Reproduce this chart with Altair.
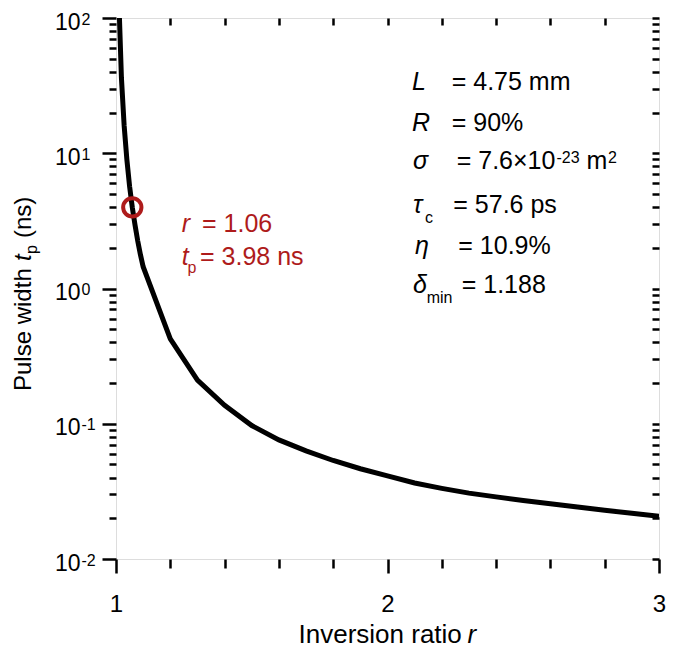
import altair as alt
import pandas as pd

# ---- data ----
r_vals = [1.01, 1.02, 1.03, 1.04, 1.05, 1.06, 1.07, 1.08, 1.09, 1.10,
          1.2, 1.3, 1.4, 1.5, 1.6, 1.7, 1.8, 1.9, 2.0,
          2.1, 2.2, 2.3, 2.4, 2.5, 2.6, 2.7, 2.8, 2.9, 3.0]
tp_vals = [145, 36, 16, 9.0, 5.7, 3.98, 2.95, 2.25, 1.78, 1.45,
           0.424, 0.210, 0.137, 0.097, 0.076, 0.063, 0.0535, 0.0465, 0.0412,
           0.0365, 0.0333, 0.0307, 0.0288, 0.0271, 0.0256, 0.0242, 0.0229, 0.0218, 0.0207]

mark_r = [1.06]
mark_tp = [3.98]

x_major = [1, 2, 3]
x_minor = [1.2, 1.4, 1.6, 1.8, 2.2, 2.4, 2.6, 2.8]
y_major = [0.01, 0.1, 1, 10, 100]
y_minor = [0.02, 0.03, 0.04, 0.05, 0.06, 0.07, 0.08, 0.09,
           0.2, 0.3, 0.4, 0.5, 0.6, 0.7, 0.8, 0.9,
           2, 3, 4, 5, 6, 7, 8, 9,
           20, 30, 40, 50, 60, 70, 80, 90]

curve = pd.DataFrame({"r": r_vals, "tp": tp_vals})
marker = pd.DataFrame({"r": mark_r, "tp": mark_tp})
one = pd.DataFrame({"k": [0]})

FONT = "Liberation Sans"
RED = "#AE1B1B"
W, H = 543, 541

xs = alt.Scale(domain=[1, 3], nice=False, zero=False)
ys = alt.Scale(type="log", domain=[0.01, 100], nice=False)

common = dict(domain=False, grid=False, title=None, tickColor="black",
              tickWidth=2.5, tickCount=200)

ax_x_major = alt.Axis(values=x_major, orient="bottom", tickSize=14,
                      labelExpr="'' + datum.value",
                      labelFont=FONT, labelFontSize=24, labelColor="black",
                      labelPadding=38, labelBaseline="alphabetic", labelFlush=False,
                      labelOverlap=False, **common)
ax_x_minor = alt.Axis(values=x_minor, orient="bottom", tickSize=9, labels=False, **common)
ax_x_top = alt.Axis(values=x_minor + [2], orient="bottom", offset=-H, tickSize=7,
                    labels=False, **common)

ax_y_major = alt.Axis(values=y_major, orient="left", tickSize=14, labelExpr="'10'",
                      labelFont=FONT, labelFontSize=23, labelColor="black",
                      labelPadding=22, labelAlign="right", labelBaseline="alphabetic",
                      labelOffset=11, labelOverlap=False, labelFlush=False, **common)
ax_y_minor = alt.Axis(values=y_minor, orient="left", tickSize=7, labels=False, **common)
ax_y_exp = alt.Axis(values=y_major, orient="left", ticks=False, tickSize=0, tickCount=200,
                    labelExpr="'' + round(log(datum.value) / LN10)",
                    labelFont=FONT, labelFontSize=16, labelColor="black",
                    labelPadding=35, labelAlign="left", labelBaseline="alphabetic",
                    labelOffset=6, labelOverlap=False, labelFlush=False,
                    domain=False, grid=False, title=None)
ax_y_right = alt.Axis(values=y_major + y_minor, orient="left", offset=-W, tickSize=7,
                      labels=False, **common)

line = alt.Chart(curve).mark_line(color="black", strokeWidth=5, clip=True).encode(
    x=alt.X("r:Q", scale=xs, axis=ax_x_major),
    y=alt.Y("tp:Q", scale=ys, axis=ax_y_major),
)
ghost1 = alt.Chart(curve).mark_line(strokeOpacity=0, clip=True).encode(
    x=alt.X("r:Q", scale=xs, axis=ax_x_minor),
    y=alt.Y("tp:Q", scale=ys, axis=ax_y_minor),
)
ghost2 = alt.Chart(curve).mark_line(strokeOpacity=0, clip=True).encode(
    x=alt.X("r:Q", scale=xs, axis=ax_x_top),
    y=alt.Y("tp:Q", scale=ys, axis=ax_y_right),
)
ghost3 = alt.Chart(curve).mark_line(strokeOpacity=0, clip=True).encode(
    x=alt.X("r:Q", scale=xs, axis=None),
    y=alt.Y("tp:Q", scale=ys, axis=ax_y_exp),
)
point = alt.Chart(marker).mark_point(shape="circle", filled=False, color=RED,
                                     size=335, strokeWidth=4, opacity=1).encode(
    x=alt.X("r:Q", scale=xs, axis=None),
    y=alt.Y("tp:Q", scale=ys, axis=None),
)


def txt(s, x, y, size=25, style="normal", color="black", angle=0, align="left"):
    return alt.Chart(one).mark_text(
        text=s, font=FONT, fontSize=size, fontStyle=style, color=color,
        angle=angle, align=align, baseline="alphabetic",
    ).encode(x=alt.value(x), y=alt.value(y))


texts = [
    # axis titles
    txt("Inversion ratio", 182.5, 625, size=26),
    txt("r", 351.5, 625, size=26, style="italic"),
    txt("Pulse width", -85.5, 373, size=24, angle=270),
    txt("t", -85.5, 243, size=24, style="italic", angle=270),
    txt("p", -79.5, 236, size=16, angle=270),
    txt("(ns)", -85.5, 220, size=24, angle=270),
    # parameter block
    txt("L", 296, 72, style="italic"),
    txt("= 4.75 mm", 335.7, 72),
    txt("R", 296, 113, style="italic"),
    txt("= 90%", 335.7, 113),
    txt("σ", 297, 151, style="italic"),
    txt("= 7.6×10", 340.7, 151),
    txt("-23", 440.5, 145, size=16),
    txt("m", 470.5, 151),
    txt("2", 492, 145, size=16),
    txt("τ", 297, 195, style="italic"),
    txt("c", 309, 205, size=16),
    txt("= 57.6 ps", 337.3, 195),
    txt("η", 299, 236, style="italic"),
    txt("= 10.9%", 342.3, 236),
    txt("δ", 297, 275, style="italic"),
    txt("min", 310.7, 285, size=16),
    txt("= 1.188", 345.7, 275),
    # marked point annotation
    txt("r", 65.7, 213.7, style="italic", color=RED),
    txt("= 1.06", 86, 213.7, color=RED),
    txt("t", 65.7, 247, style="italic", color=RED),
    txt("p", 71.5, 255.3, size=16, color=RED),
    txt("= 3.98 ns", 84, 247, color=RED),
]

chart = alt.layer(line, ghost1, ghost2, ghost3, point, *texts).resolve_axis(
    x="independent", y="independent"
).properties(
    width=W, height=H,
    autosize=alt.AutoSizeParams(type="none"),
    padding={"left": 108, "top": 10, "right": 8, "bottom": 90},
).configure_view(
    stroke="black", strokeWidth=3, fill="white"
).configure(background="white")

chart.save("out.html", embed_options={"renderer": "svg", "actions": False})
